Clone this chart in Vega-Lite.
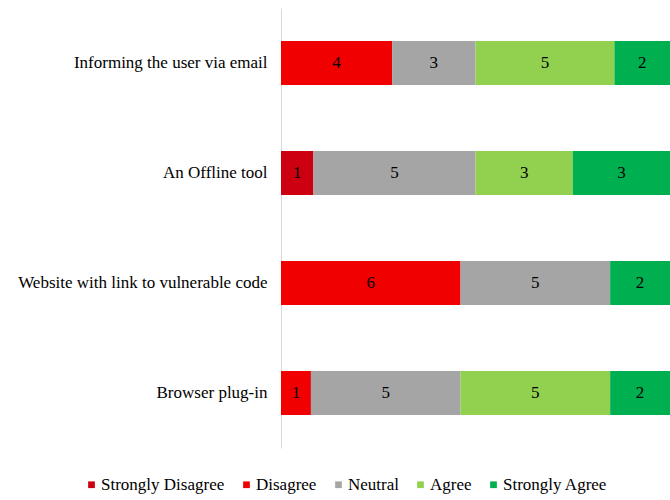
{
  "$schema": "https://vega.github.io/schema/vega-lite/v6.json",
  "autosize": {"type": "none"},
  "padding": {"left": 281, "top": 8, "right": 0, "bottom": 52},
  "width": 389,
  "height": 440,
  "background": "white",
  "config": {"view": {"stroke": null}, "font": "Liberation Serif"},
  "data": {
    "values": [
      {"item": "Informing the user via email", "response": "Disagree", "count": 4},
      {"item": "Informing the user via email", "response": "Neutral", "count": 3},
      {"item": "Informing the user via email", "response": "Agree", "count": 5},
      {"item": "Informing the user via email", "response": "Strongly Agree", "count": 2},
      {"item": "An Offline tool", "response": "Strongly Disagree", "count": 1},
      {"item": "An Offline tool", "response": "Neutral", "count": 5},
      {"item": "An Offline tool", "response": "Agree", "count": 3},
      {"item": "An Offline tool", "response": "Strongly Agree", "count": 3},
      {"item": "Website with link to vulnerable code", "response": "Disagree", "count": 6},
      {"item": "Website with link to vulnerable code", "response": "Neutral", "count": 5},
      {"item": "Website with link to vulnerable code", "response": "Strongly Agree", "count": 2},
      {"item": "Browser plug-in", "response": "Disagree", "count": 1},
      {"item": "Browser plug-in", "response": "Neutral", "count": 5},
      {"item": "Browser plug-in", "response": "Agree", "count": 5},
      {"item": "Browser plug-in", "response": "Strongly Agree", "count": 2}
    ]
  },
  "transform": [
    {"calculate": "indexof(['Strongly Disagree','Disagree','Neutral','Agree','Strongly Agree'], datum.response)", "as": "rank"}
  ],
  "encoding": {
    "y": {
      "field": "item",
      "type": "nominal",
      "sort": ["Informing the user via email", "An Offline tool", "Website with link to vulnerable code", "Browser plug-in"],
      "scale": {"paddingInner": 0.6, "paddingOuter": 0.3},
      "axis": {
        "title": null,
        "ticks": false,
        "domainColor": "#D9D9D9",
        "domainWidth": 1,
        "labelFont": "Liberation Serif",
        "labelFontSize": 17,
        "labelColor": "#000000",
        "labelPadding": 14,
        "labelLimit": 300
      }
    },
    "order": {"field": "rank", "type": "quantitative"}
  },
  "layer": [
    {
      "mark": {"type": "bar"},
      "encoding": {
        "x": {"field": "count", "type": "quantitative", "stack": "normalize", "scale": {"domain": [0, 1]}, "axis": null},
        "color": {
          "field": "response",
          "type": "nominal",
          "scale": {
            "domain": ["Strongly Disagree", "Disagree", "Neutral", "Agree", "Strongly Agree"],
            "range": ["#CC0010", "#F00000", "#A5A5A5", "#92D050", "#00B050"]
          },
          "legend": {
            "title": null,
            "orient": "none",
            "direction": "horizontal",
            "legendX": -198,
            "legendY": 468,
            "symbolType": "square",
            "symbolSize": 45,
            "symbolStrokeWidth": 0,
            "labelFont": "Liberation Serif",
            "labelFontSize": 17,
            "labelColor": "#000000",
            "labelOffset": 1,
            "columnPadding": 13,
            "labelLimit": 200
          }
        }
      }
    },
    {
      "mark": {"type": "text", "font": "Liberation Serif", "fontSize": 17, "color": "#000000", "baseline": "middle", "align": "center"},
      "encoding": {
        "x": {"field": "count", "type": "quantitative", "stack": "normalize", "bandPosition": 0.5},
        "text": {"field": "count", "type": "quantitative"}
      }
    }
  ]
}
